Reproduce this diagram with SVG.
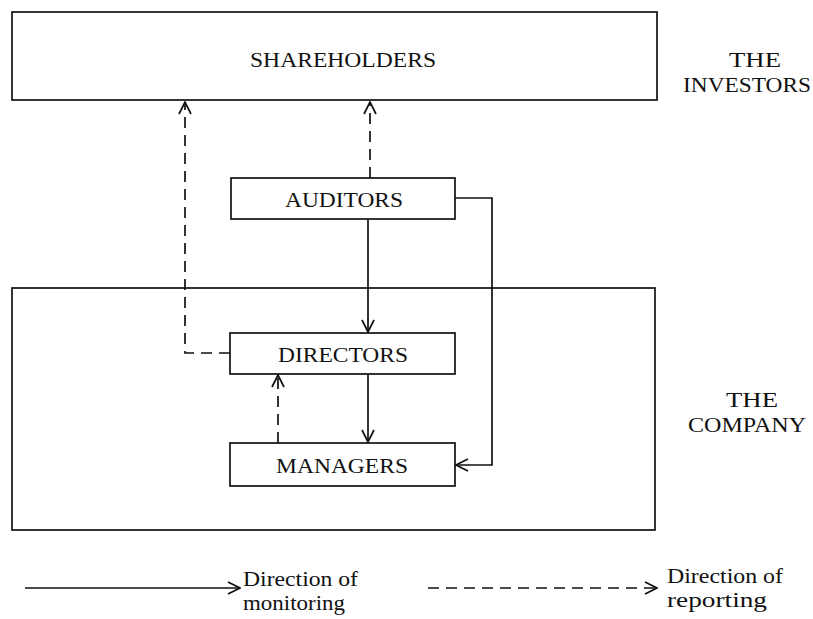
<svg xmlns="http://www.w3.org/2000/svg" width="813" height="619" viewBox="0 0 813 619">
<style>
.box{fill:#fff;stroke:#111;stroke-width:1.7}
.t{font-family:"Liberation Serif","Times New Roman",serif;font-size:20px;fill:#111}
.c{text-anchor:middle}
.s{fill:none;stroke:#111;stroke-width:1.7}
.d{fill:none;stroke:#111;stroke-width:1.7;stroke-dasharray:11 7}
</style>
<defs>
<marker id="a" viewBox="0 0 14 14" refX="13" refY="7" markerWidth="14" markerHeight="14" markerUnits="userSpaceOnUse" orient="auto">
<path d="M1,1 L13,7 L1,13" fill="none" stroke="#111" stroke-width="1.7"/>
</marker>
</defs>
<g id="shareholders">
<rect class="box" x="12" y="12" width="645" height="88"/>
<text class="t c" x="343" y="67" textLength="186" lengthAdjust="spacingAndGlyphs">SHAREHOLDERS</text>
</g>
<g id="investors-label">
<text class="t c" x="755" y="67" textLength="52" lengthAdjust="spacingAndGlyphs">THE</text>
<text class="t c" x="747" y="92" textLength="128" lengthAdjust="spacingAndGlyphs">INVESTORS</text>
</g>
<g id="company">
<rect class="box" x="12" y="288" width="643" height="242"/>
</g>
<g id="company-label">
<text class="t c" x="752" y="407" textLength="52" lengthAdjust="spacingAndGlyphs">THE</text>
<text class="t c" x="747" y="432" textLength="118" lengthAdjust="spacingAndGlyphs">COMPANY</text>
</g>
<g id="auditors">
<rect class="box" x="231" y="178" width="224" height="41"/>
<text class="t c" x="344" y="207" textLength="118" lengthAdjust="spacingAndGlyphs">AUDITORS</text>
</g>
<g id="directors">
<rect class="box" x="230" y="333" width="225" height="41"/>
<text class="t c" x="343" y="362" textLength="130" lengthAdjust="spacingAndGlyphs">DIRECTORS</text>
</g>
<g id="managers">
<rect class="box" x="230" y="443" width="225" height="43"/>
<text class="t c" x="342" y="473" textLength="132" lengthAdjust="spacingAndGlyphs">MANAGERS</text>
</g>
<g id="connectors">
<path class="d" d="M230,353 H185 V102" marker-end="url(#a)"/>
<path class="d" d="M370,178 V102" marker-end="url(#a)"/>
<path class="s" d="M368,219 V332" marker-end="url(#a)"/>
<path class="s" d="M455,198 H492 V465 H456" marker-end="url(#a)"/>
<path class="s" d="M368,374 V442" marker-end="url(#a)"/>
<path class="d" d="M278,443 V375" marker-end="url(#a)"/>
</g>
<g id="legend">
<path class="s" d="M25,588 H240" marker-end="url(#a)"/>
<text class="t" x="243" y="586" textLength="115" lengthAdjust="spacingAndGlyphs">Direction of</text>
<text class="t" x="243" y="610" textLength="102" lengthAdjust="spacingAndGlyphs">monitoring</text>
<path class="d" d="M428,588 H657" marker-end="url(#a)"/>
<text class="t" x="667" y="583" textLength="116" lengthAdjust="spacingAndGlyphs">Direction of</text>
<text class="t" x="667" y="607" textLength="100" lengthAdjust="spacingAndGlyphs">reporting</text>
</g>
</svg>
